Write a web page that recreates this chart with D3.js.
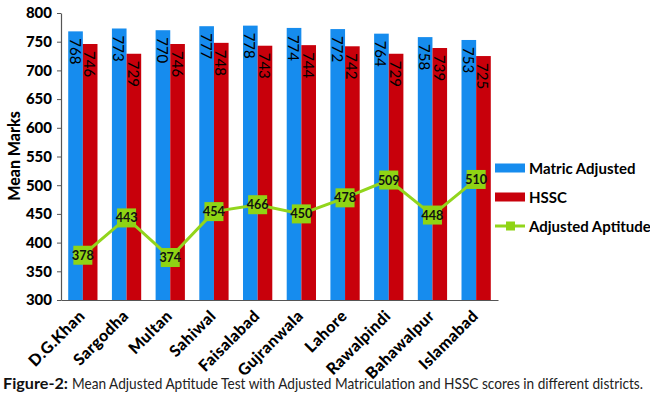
<!DOCTYPE html>
<html>
<head>
<meta charset="utf-8">
<script src="https://cdnjs.cloudflare.com/ajax/libs/d3/7.8.5/d3.min.js"></script>
<style>
  body { margin: 0; background: #fff; }
  svg { display: block; }
</style>
</head>
<body>
<div id="chart"></div>
<script>
// chart values
const districts = ["D.G.Khan", "Sargodha", "Multan", "Sahiwal", "Faisalabad",
                   "Gujranwala", "Lahore", "Rawalpindi", "Bahawalpur", "Islamabad"];
const matricAdjusted = [768, 773, 770, 777, 778, 774, 772, 764, 758, 753];
const hssc = [746, 729, 746, 748, 743, 744, 742, 729, 739, 725];
const adjustedAptitude = [378, 443, 374, 454, 466, 450, 478, 509, 448, 510];
const yTicks = [300, 350, 400, 450, 500, 550, 600, 650, 700, 750, 800];
const seriesNames = ["Matric Adjusted", "HSSC", "Adjusted Aptitude"];

const W = 650, H = 403;
const BLUE = "#168cee", RED = "#c8000b", GREEN = "#8fd414", GREEN_LINE = "#92d51c";
const FONT = "Lato, 'Open Sans', sans-serif";

const svg = d3.select("#chart").append("svg")
    .attr("width", W)
    .attr("height", H)
    .style("font-family", FONT);

const plot = {left: 61, right: 498, top: 13, bottom: 300};

const x = d3.scaleBand()
    .domain(districts)
    .range([plot.left, plot.right])
    .paddingInner(0.33)
    .paddingOuter(0.165);

const xSub = d3.scaleBand()
    .domain([0, 1])
    .range([0, x.bandwidth()]);

const y = d3.scaleLinear()
    .domain([300, 800])
    .range([plot.bottom, plot.top]);

// bars
const bars = districts.map((d, i) => ({district: d, values: [matricAdjusted[i], hssc[i]]}));

const groups = svg.append("g").selectAll("g")
    .data(bars)
    .join("g")
    .attr("transform", d => `translate(${x(d.district)},0)`);

groups.selectAll("rect")
    .data(d => d.values.map((v, k) => ({k: k, v: v})))
    .join("rect")
    .attr("x", d => xSub(d.k))
    .attr("width", xSub.bandwidth())
    .attr("y", d => y(d.v))
    .attr("height", d => y(300) - y(d.v))
    .attr("fill", d => d.k == 0 ? BLUE : RED);

// rotated value labels inside the bar tops
groups.selectAll("text")
    .data(d => d.values.map((v, k) => ({k: k, v: v})))
    .join("text")
    .attr("transform", d => `translate(${xSub(d.k) + xSub.bandwidth() / 2},${y(d.v) + 7}) rotate(90)`)
    .attr("dominant-baseline", "central")
    .style("font-size", "15px")
    .style("fill", "#000")
    .text(d => d.v);

// axes
const yAxis = svg.append("g")
    .attr("transform", `translate(${plot.left},0)`)
    .call(d3.axisLeft(y).tickValues(yTicks).tickSize(4).tickPadding(5).tickSizeOuter(0));
yAxis.select(".domain").attr("stroke", "#555").attr("stroke-width", 1.2);
yAxis.selectAll(".tick line").attr("stroke", "#555");
yAxis.selectAll(".tick text")
    .style("font-family", FONT)
    .style("font-size", "15px")
    .style("font-weight", "900")
    .style("fill", "#000");

const xAxis = svg.append("g")
    .attr("transform", `translate(0,${plot.bottom})`)
    .call(d3.axisBottom(x).tickSize(0).tickSizeOuter(0).tickFormat(""));
xAxis.select(".domain").attr("stroke", "#555").attr("stroke-width", 1.2);

// category labels, slanted 45 degrees and ending under each group
svg.append("g").selectAll("text")
    .data(districts)
    .join("text")
    .attr("transform", d => `translate(${x(d) + x.bandwidth() / 2 + 3},${plot.bottom + 17}) rotate(-45)`)
    .attr("text-anchor", "end")
    .style("font-size", "16px")
    .style("font-weight", "900")
    .style("letter-spacing", "0.4px")
    .style("fill", "#000")
    .text(d => d);

// y axis title
svg.append("text")
    .attr("transform", `translate(20,156) rotate(-90)`)
    .attr("text-anchor", "middle")
    .style("font-size", "16px")
    .style("font-weight", "900")
    .text("Mean Marks");

// aptitude line
const line = d3.line()
    .x((d, i) => x(districts[i]) + x.bandwidth() / 2)
    .y(d => y(d));

svg.append("path")
    .datum(adjustedAptitude)
    .attr("d", line)
    .attr("fill", "none")
    .attr("stroke", GREEN_LINE)
    .attr("stroke-width", 3);

const pts = svg.append("g").selectAll("g")
    .data(adjustedAptitude)
    .join("g")
    .attr("transform", (d, i) => `translate(${x(districts[i]) + x.bandwidth() / 2},${y(d)})`);

pts.append("rect")
    .attr("x", -9.5).attr("y", -9.5)
    .attr("width", 19).attr("height", 19)
    .attr("fill", GREEN);

pts.append("text")
    .attr("text-anchor", "middle")
    .attr("dominant-baseline", "central")
    .style("font-size", "12.5px")
    .style("font-weight", "bold")
    .style("fill", "#111")
    .text(d => d);

// legend
const legend = svg.append("g").attr("transform", "translate(495,0)");
const legendY = [168, 197, 226];

seriesNames.forEach((name, i) => {
    let row = legend.append("g").attr("transform", `translate(0,${legendY[i]})`);
    if (i < 2) {
        row.append("rect")
            .attr("x", 0).attr("y", -4.5)
            .attr("width", 30).attr("height", 9)
            .attr("fill", i == 0 ? BLUE : RED);
    } else {
        row.append("line")
            .attr("x1", 0).attr("x2", 30)
            .attr("stroke", GREEN_LINE)
            .attr("stroke-width", 3);
        row.append("rect")
            .attr("x", 11).attr("y", -4.5)
            .attr("width", 9).attr("height", 9)
            .attr("fill", GREEN);
    }
    row.append("text")
        .attr("x", 34)
        .attr("dominant-baseline", "central")
        .style("font-size", "15px")
        .style("font-weight", "bold")
        .text(name);
});

// caption, fitted to the width of the condensed original
svg.append("text")
    .attr("x", 3).attr("y", 389)
    .attr("textLength", 65).attr("lengthAdjust", "spacingAndGlyphs")
    .style("font-size", "16px")
    .style("font-weight", "bold")
    .style("fill", "#111")
    .text("Figure-2:");

svg.append("text")
    .attr("x", 72).attr("y", 389)
    .attr("textLength", 571).attr("lengthAdjust", "spacingAndGlyphs")
    .style("font-size", "16px")
    .style("fill", "#222")
    .text("Mean Adjusted Aptitude Test with Adjusted Matriculation and HSSC scores in different districts.");
</script>
</body>
</html>
